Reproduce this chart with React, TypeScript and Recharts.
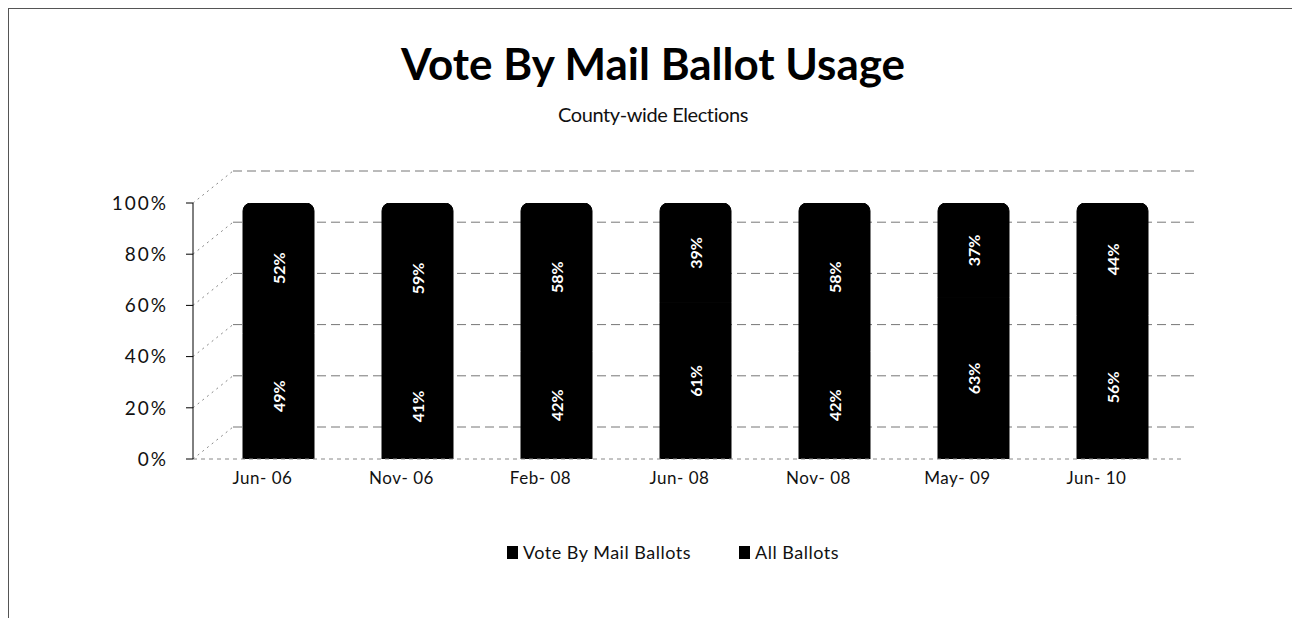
import { BarChart, Bar, XAxis, YAxis, CartesianGrid, LabelList } from "recharts";

const categories = ["Jun- 06", "Nov- 06", "Feb- 08", "Jun- 08", "Nov- 08", "May- 09", "Jun- 10"];
const voteByMail = [49, 41, 42, 61, 42, 63, 56];
const allBallots = [52, 59, 58, 39, 58, 37, 44];
const yTicks = [0, 20, 40, 60, 80, 100];

const data = categories.map((cat, i) => ({
  cat,
  vbm: voteByMail[i],
  all: allBallots[i],
}));

const FONT = "Lato, 'Open Sans', sans-serif";
// back wall of the 3d plot sits up and to the right of the axis
const WALL_DX = 40;
const WALL_DY = -32;

function BarLabel(props: any) {
  const { x, y, width, height, value } = props;
  const cx = x + width / 2;
  const cy = y + height / 2;
  return (
    <text
      x={cx}
      y={cy}
      transform={`rotate(-90 ${cx} ${cy})`}
      textAnchor="middle"
      dominantBaseline="central"
      fill="#fff"
      fontWeight="bold"
      fontSize={16}
      fontFamily={FONT}
    >
      {value}%
    </text>
  );
}

function CatTick(props: any) {
  const { x, y, payload } = props;
  return (
    <text x={x - 16} y={y + 17} textAnchor="middle" fontSize={17} letterSpacing={0.5} fontFamily={FONT} fill="#111">
      {payload.value}
    </text>
  );
}

function WallLine(props: any) {
  const { x1, y1, x2, key } = props;
  return (
    <g key={key}>
      <line
        x1={x1 + WALL_DX}
        x2={x2 + WALL_DX - 25}
        y1={y1 + WALL_DY}
        y2={y1 + WALL_DY}
        stroke="#777"
        strokeDasharray="9 5"
      />
      <line
        x1={x1}
        x2={x1 + WALL_DX}
        y1={y1}
        y2={y1 + WALL_DY}
        stroke="#888"
        strokeDasharray="2 4"
      />
    </g>
  );
}

export default function App() {
  return (
    <div
      style={{
        position: "relative",
        width: 1290,
        height: 610,
        borderTop: "1px solid #555",
        borderLeft: "1px solid #555",
        borderRight: "1px solid #555",
        background: "#fff",
        fontFamily: FONT,
        boxSizing: "border-box",
      }}
    >
      <div style={{ position: "absolute", top: 28, left: 0, width: "100%", textAlign: "center", fontSize: 44, fontWeight: "bold", color: "#000" }}>
        Vote By Mail Ballot Usage
      </div>
      <div style={{ position: "absolute", top: 93, left: 0, width: "100%", textAlign: "center", fontSize: 20, letterSpacing: -0.4, color: "#111" }}>
        County-wide Elections
      </div>
      <BarChart
        width={1290}
        height={610}
        data={data}
        margin={{ top: 194, right: 117, bottom: 120, left: 104 }}
        barSize={71}
      >
        <CartesianGrid vertical={false} horizontal={(p: any) => <WallLine {...p} />} />
        <XAxis
          dataKey="cat"
          tick={<CatTick />}
          tickLine={false}
          axisLine={{ stroke: "#888", strokeDasharray: "4 4" }}
          padding={{ left: 16, right: 0 }}
          height={40}
          interval={0}
        />
        <YAxis
          domain={[0, 100]}
          allowDataOverflow
          ticks={yTicks}
          tickFormatter={(v) => `${v}%`}
          width={80}
          tickSize={7}
          tickMargin={18}
          axisLine={{ stroke: "#000" }}
          tickLine={{ stroke: "#000" }}
          tick={{ fontSize: 19, letterSpacing: 2, fontFamily: FONT, fill: "#111" }}
        />
        <Bar dataKey="vbm" stackId="a" fill="#000" stroke="#000" strokeWidth={1} isAnimationActive={false} name="Vote By Mail Ballots">
          <LabelList dataKey="vbm" content={<BarLabel />} />
        </Bar>
        <Bar dataKey="all" stackId="a" fill="#000" stroke="#000" strokeWidth={1} isAnimationActive={false} name="All Ballots" radius={[8, 8, 0, 0]}>
          <LabelList dataKey="all" content={<BarLabel />} />
        </Bar>
      </BarChart>
      <div
        style={{
          position: "absolute",
          top: 532,
          left: 20,
          width: "100%",
          display: "flex",
          justifyContent: "center",
          gap: 48,
          fontSize: 18,
          letterSpacing: 0.5,
          color: "#111",
        }}
      >
        <span style={{ display: "flex", alignItems: "center", gap: 5 }}>
          <span style={{ width: 11, height: 13, background: "#000", display: "inline-block" }} />
          Vote By Mail Ballots
        </span>
        <span style={{ display: "flex", alignItems: "center", gap: 5 }}>
          <span style={{ width: 11, height: 13, background: "#000", display: "inline-block" }} />
          All Ballots
        </span>
      </div>
    </div>
  );
}
